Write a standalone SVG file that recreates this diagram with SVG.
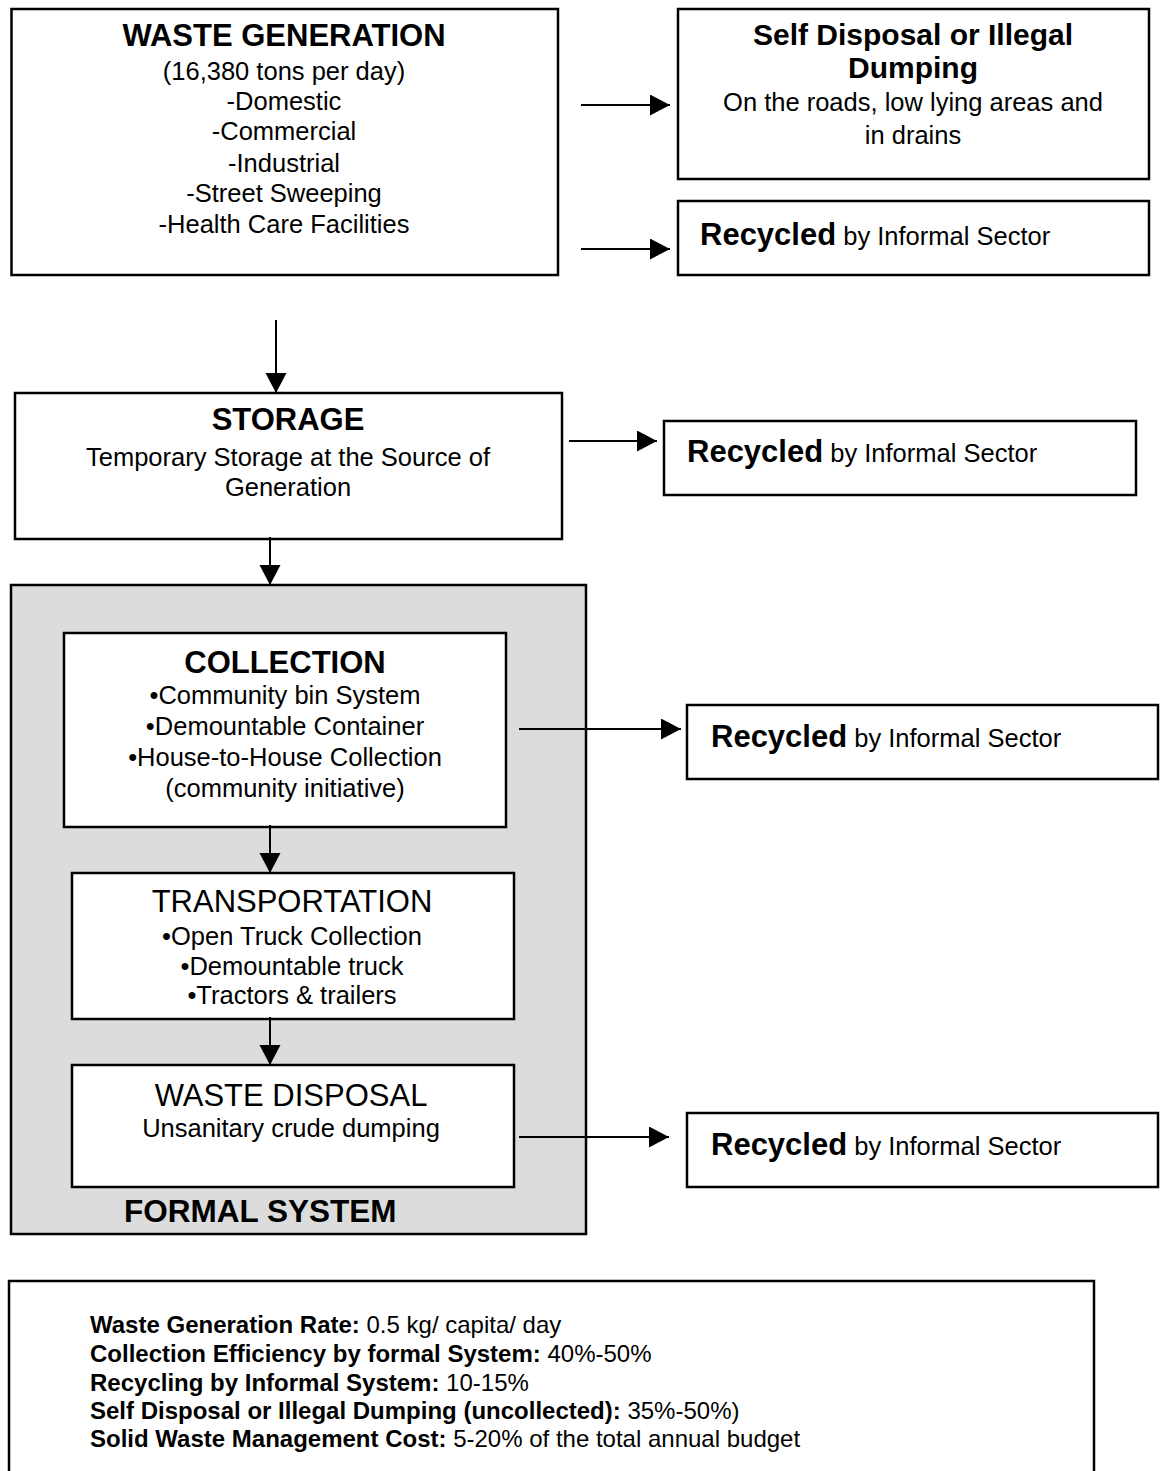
<svg xmlns="http://www.w3.org/2000/svg" width="1160" height="1471" viewBox="0 0 1160 1471">
<style>
.box{fill:#fff;stroke:#000;stroke-width:2.5}
.frame{fill:#dcdcdc;stroke:#000;stroke-width:2.5}
.conn{stroke:#000;stroke-width:2;fill:none;marker-end:url(#ah)}
text{font-family:"Liberation Sans",Arial,Helvetica,sans-serif;fill:#000}
.t{font-size:31px;font-weight:bold;text-anchor:middle}
.b{font-size:25.5px;text-anchor:middle}
.h{font-size:31px;text-anchor:middle}
.r{font-size:25.5px;font-weight:normal}
.rb{font-size:31px;font-weight:bold}
.n{font-size:24px}
.nb{font-weight:bold}
</style>
<defs>
<marker id="ah" markerUnits="userSpaceOnUse" markerWidth="21" markerHeight="22" refX="20" refY="10.5" orient="auto"><path d="M0,0 L20,10.5 L0,21 z" fill="#000"/></marker>
</defs>
<rect x="0" y="0" width="1160" height="1471" fill="#fff"/>

<g id="formal-system">
<rect class="frame" x="11" y="585" width="575" height="649"/>
<text x="124" y="1222" style="font-size:31.5px;font-weight:bold">FORMAL SYSTEM</text>
</g>

<g id="waste-generation">
<rect class="box" x="11.5" y="9" width="546.5" height="266"/>
<text class="t" x="284" y="46">WASTE GENERATION</text>
<text class="b" x="284" y="80">(16,380 tons per day)</text>
<text class="b" x="284" y="110">-Domestic</text>
<text class="b" x="284" y="140">-Commercial</text>
<text class="b" x="284" y="172">-Industrial</text>
<text class="b" x="284" y="202">-Street Sweeping</text>
<text class="b" x="284" y="233">-Health Care Facilities</text>
</g>

<g id="self-disposal">
<rect class="box" x="678" y="9" width="471" height="170"/>
<text class="t" x="913" y="45" style="font-size:30px">Self Disposal or Illegal</text>
<text class="t" x="913" y="78" style="font-size:30px">Dumping</text>
<text class="b" x="913" y="111">On the roads, low lying areas and</text>
<text class="b" x="913" y="144">in drains</text>
</g>

<g id="recycled-1">
<rect class="box" x="678" y="201" width="471" height="74"/>
<text x="700" y="245"><tspan class="rb">Recycled</tspan><tspan class="r"> by Informal Sector</tspan></text>
</g>

<g id="storage">
<rect class="box" x="15" y="393" width="547" height="146"/>
<text class="t" x="288" y="430">STORAGE</text>
<text class="b" x="288" y="466">Temporary Storage at the Source of</text>
<text class="b" x="288" y="496">Generation</text>
</g>

<g id="recycled-2">
<rect class="box" x="664" y="421" width="472" height="74"/>
<text x="687" y="462"><tspan class="rb">Recycled</tspan><tspan class="r"> by Informal Sector</tspan></text>
</g>

<g id="collection">
<rect class="box" x="64" y="633" width="442" height="194"/>
<text class="t" x="285" y="673">COLLECTION</text>
<text class="b" x="285" y="704">•Community bin System</text>
<text class="b" x="285" y="735">•Demountable Container</text>
<text class="b" x="285" y="766">•House-to-House Collection</text>
<text class="b" x="285" y="797">(community initiative)</text>
</g>

<g id="recycled-3">
<rect class="box" x="687" y="705" width="471" height="74"/>
<text x="711" y="747"><tspan class="rb">Recycled</tspan><tspan class="r"> by Informal Sector</tspan></text>
</g>

<g id="transportation">
<rect class="box" x="72" y="873" width="442" height="146"/>
<text class="h" x="292" y="912">TRANSPORTATION</text>
<text class="b" x="292" y="945">•Open Truck Collection</text>
<text class="b" x="292" y="975">•Demountable truck</text>
<text class="b" x="292" y="1004">•Tractors &amp; trailers</text>
</g>

<g id="waste-disposal">
<rect class="box" x="72" y="1065" width="442" height="122"/>
<text class="h" x="291" y="1106">WASTE DISPOSAL</text>
<text class="b" x="291" y="1137">Unsanitary crude dumping</text>
</g>

<g id="recycled-4">
<rect class="box" x="687" y="1113" width="471" height="74"/>
<text x="711" y="1155"><tspan class="rb">Recycled</tspan><tspan class="r"> by Informal Sector</tspan></text>
</g>

<g id="summary">
<path d="M9,1480 V1281 H1094 V1480" fill="#fff" stroke="#000" stroke-width="2.5"/>
<text class="n" x="90" y="1333"><tspan class="nb">Waste Generation Rate:</tspan> 0.5 kg/ capita/ day</text>
<text class="n" x="90" y="1362"><tspan class="nb">Collection Efficiency by formal System:</tspan> 40%-50%</text>
<text class="n" x="90" y="1391"><tspan class="nb">Recycling by Informal System:</tspan> 10-15%</text>
<text class="n" x="90" y="1419"><tspan class="nb">Self Disposal or Illegal Dumping (uncollected):</tspan> 35%-50%)</text>
<text class="n" x="90" y="1447"><tspan class="nb">Solid Waste Management Cost:</tspan> 5-20% of the total annual budget</text>
</g>

<g id="connectors">
<line class="conn" x1="581" y1="105" x2="670" y2="105"/>
<line class="conn" x1="581" y1="249" x2="670" y2="249"/>
<line class="conn" x1="276" y1="320" x2="276" y2="393"/>
<line class="conn" x1="569" y1="441" x2="657" y2="441"/>
<line class="conn" x1="270" y1="537" x2="270" y2="585"/>
<line class="conn" x1="519" y1="729" x2="681" y2="729"/>
<line class="conn" x1="270" y1="825" x2="270" y2="873"/>
<line class="conn" x1="270" y1="1017" x2="270" y2="1065"/>
<line class="conn" x1="519" y1="1137" x2="669" y2="1137"/>
</g>
</svg>
